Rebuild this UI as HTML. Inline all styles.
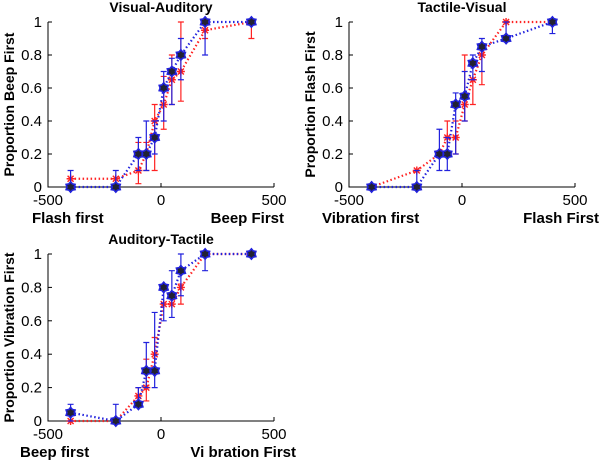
<!DOCTYPE html>
<html><head><meta charset="utf-8"><style>
html,body{margin:0;padding:0;background:#fff;}
svg{display:block;font-family:"Liberation Sans",Arial,sans-serif;}
</style></head><body>
<svg id="chart" width="600" height="460" viewBox="0 0 600 460"></svg>
<script>
const soa = [-400,-200,-100,-65,-28,12,48,88,195,400];
const titles = ["Visual-Auditory","Tactile-Visual","Auditory-Tactile"];
const yTitles = ["Proportion Beep First","Proportion Flash First","Proportion Vibration First"];
const leftLabels = ["Flash first","Vibration first","Beep first"];
const rightLabels = ["Beep First","Flash First","Vi bration First"];
const xTicks = [-500,0,500];
const yTicks = [0,0.2,0.4,0.6,0.8,1];
const yTickText = ["0","0.2","0.4","0.6","0.8","1"];
const blue1 = [0,0,0.2,0.2,0.3,0.6,0.7,0.8,1,1];
const blueLo1 = [0,0,0.1,0.1,0.2,0.4,0.5,0.65,0.8,1];
const blueHi1 = [0.1,0.1,0.3,0.4,0.4,0.7,0.78,0.9,1,1];
const red1 = [0.05,0.05,0.1,0.2,0.4,0.5,0.65,0.7,0.95,1];
const redLo1 = [0.05,0.05,0.02,0.1,0.1,0.35,0.5,0.52,0.9,0.9];
const redHi1 = [0.05,0.05,0.27,0.27,0.5,0.67,0.8,1,1,1];
const blue2 = [0,0,0.2,0.2,0.5,0.55,0.75,0.85,0.9,1];
const blueLo2 = [0,0,0.1,0.1,0.2,0.4,0.65,0.7,0.9,0.93];
const blueHi2 = [0,0.1,0.35,0.3,0.57,0.7,0.8,0.9,1,1.02];
const red2 = [0,0.1,0.2,0.3,0.3,0.5,0.65,0.8,1,1];
const redLo2 = [0,0.1,0.2,0.2,0.2,0.4,0.5,0.62,1,1];
const redHi2 = [0,0.1,0.2,0.4,0.4,0.8,0.65,0.85,1,1];
const blue3 = [0.05,0,0.1,0.3,0.3,0.8,0.75,0.9,1,1];
const blueLo3 = [0,0,0.08,0.2,0.2,0.6,0.62,0.75,0.9,1];
const blueHi3 = [0.1,0.1,0.2,0.47,0.65,0.8,0.9,1,1,1];
const red3 = [0,0,0.15,0.2,0.4,0.7,0.7,0.8,1,1];
const redLo3 = [0,0,0.15,0.12,0.3,0.7,0.7,0.7,1,1];
const redHi3 = [0,0,0.2,0.37,0.5,0.7,0.7,0.82,1,1];
const panels = [
 {x0:48,x1:274,y0:187,y1:22,lx:32,rx:284,b:blue1,bl:blueLo1,bh:blueHi1,r:red1,rl:redLo1,rh:redHi1},
 {x0:349,x1:575,y0:187,y1:22,lx:322,rx:599,b:blue2,bl:blueLo2,bh:blueHi2,r:red2,rl:redLo2,rh:redHi2},
 {x0:48,x1:274,y0:421,y1:254,lx:20,rx:296,b:blue3,bl:blueLo3,bh:blueHi3,r:red3,rl:redLo3,rh:redHi3}
];
const NS="http://www.w3.org/2000/svg";
const svg=document.getElementById('chart');
function mk(tag,attrs,parent,text){const e=document.createElementNS(NS,tag);for(const k in attrs)e.setAttribute(k,attrs[k]);if(text!==undefined)e.textContent=text;parent.appendChild(e);return e;}
panels.forEach((p,i)=>{
 const g=mk('g',{},svg);
 
 
 const sx=v=>p.x0+(v+500)/1000*(p.x1-p.x0);
 const sy=v=>p.y0+v*(p.y1-p.y0);
 const ax=mk('path',{d:`M${p.x0},${p.y1}V${p.y0}H${p.x1}`,stroke:'#000',fill:'none','stroke-width':1},g);
 
 
 yTicks.forEach((t,k)=>{
  mk('line',{x1:p.x0,x2:p.x0+4,y1:sy(t),y2:sy(t),stroke:'#000'},g);
  const tx=mk('text',{x:p.x0-6,y:sy(t)+5,'text-anchor':'end','font-size':15},g,yTickText[k]);
  
  
 });
 xTicks.forEach(t=>{
  mk('line',{x1:sx(t),x2:sx(t),y1:p.y0,y2:p.y0-4,stroke:'#000'},g);
  const tx=mk('text',{x:sx(t),y:p.y0+18,'text-anchor':'middle','font-size':15},g,String(t));
  
  
 });
 const ti=mk('text',{x:(p.x0+p.x1)/2,y:p.y1-10,'text-anchor':'middle','font-size':14,'font-weight':'bold'},g,titles[i]);
 
 
 const yl=mk('text',{x:0,y:0,'text-anchor':'middle','font-size':14,'font-weight':'bold',transform:`translate(${p.x0-34},${(p.y0+p.y1)/2}) rotate(-90)`},g,yTitles[i]);
 
 
 const ll=mk('text',{x:p.lx,y:p.y0+36,'font-size':15,'font-weight':'bold'},g,leftLabels[i]);
 
 
 const rl=mk('text',{x:p.rx,y:p.y0+36,'text-anchor':'end','font-size':15,'font-weight':'bold'},g,rightLabels[i]);
 
 
 [['r','rl','rh','#f22'],['b','bl','bh','#22d']].forEach(([s,lo,hi,c])=>{
  const vals=p[s];
  const line=mk('polyline',{points:soa.map((x,k)=>sx(x)+','+sy(vals[k])).join(' '),fill:'none',stroke:c,'stroke-width':2.2,'stroke-dasharray':'1.5 2.5'},g);
  
  
  soa.forEach((x,k)=>{
   const X=sx(x),Yl=sy(p[lo][k]),Yh=sy(p[hi][k]);
   const eb=mk('path',{d:`M${X},${Yl}V${Yh}M${X-3},${Yl}H${X+3}M${X-3},${Yh}H${X+3}`,stroke:c,'stroke-width':1.2,fill:'none'},g);
   
   
   const Y=sy(vals[k]);
   let m;
   if(s==='b'){
    m=mk('polygon',{points:[0,1,2,3,4,5,6,7,8,9,10,11].map(j=>{const a=j*Math.PI/6-Math.PI/2;const r=j%2?3.6:5.2;return (X+r*Math.cos(a)).toFixed(1)+','+(Y+r*Math.sin(a)).toFixed(1);}).join(' '),fill:'#223',stroke:c,'stroke-width':1.6},g);
   } else {
    m=mk('path',{d:`M${X-4},${Y}H${X+4}M${X},${Y-4}V${Y+4}M${X-3},${Y-3}L${X+3},${Y+3}M${X-3},${Y+3}L${X+3},${Y-3}`,stroke:c,'stroke-width':1.4},g);
   }
   
   
  });
 });
});
</script>
</body></html>
